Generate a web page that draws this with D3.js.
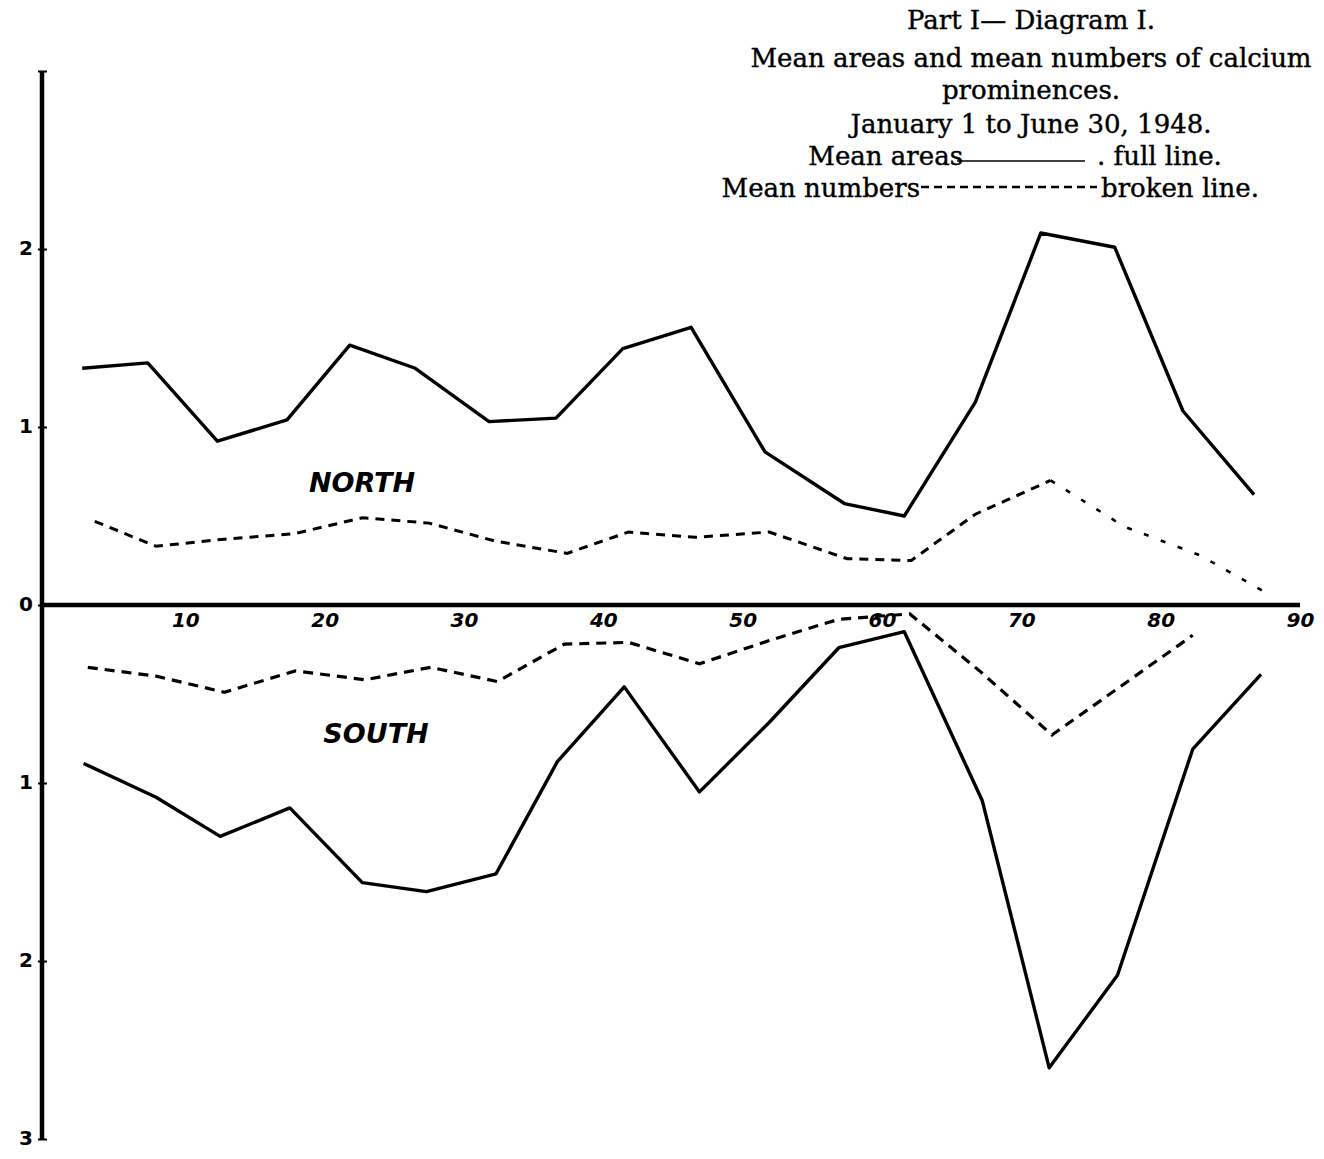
<!DOCTYPE html>
<html>
<head>
<meta charset="utf-8">
<script src="https://cdn.jsdelivr.net/npm/d3@7"></script>
<style>
  body { margin: 0; background: #fff; }
  svg { display: block; }
  .title { font-family: "DejaVu Serif", serif; font-size: 26px; fill: #000; stroke: #000; stroke-width: 0.4px; }
  .tick text { font-family: "DejaVu Sans", sans-serif; font-weight: bold; font-size: 20px; }
  .hemi { font-family: "DejaVu Sans", sans-serif; font-weight: bold; font-style: italic; font-size: 27px; }
</style>
</head>
<body>
<svg id="chart" width="1324" height="1159"></svg>
<script>
// days (x) and values
var northAreaX = [2.6, 7.3, 12.3, 17.3, 21.8, 26.5, 31.8, 36.6, 41.4, 46.3, 51.6, 57.3, 61.6, 66.7, 71.4, 76.7, 81.6, 86.7];
var northAreaY = [1.33, 1.36, 0.92, 1.04, 1.46, 1.33, 1.03, 1.05, 1.44, 1.56, 0.86, 0.57, 0.50, 1.14, 2.09, 2.01, 1.09, 0.62];

var northNumX = [3.5, 7.9, 12.8, 17.8, 22.7, 27.5, 32.2, 37.4, 41.8, 46.6, 51.9, 57.5, 62.1, 66.7, 72.1];
var northNumY = [0.47, 0.33, 0.37, 0.40, 0.49, 0.46, 0.36, 0.29, 0.41, 0.38, 0.41, 0.26, 0.25, 0.51, 0.70];
// faint tail after the peak
var northTailX = [72.1, 77.4, 82.8, 88.0];
var northTailY = [0.70, 0.44, 0.28, 0.05];

var southAreaX = [2.7, 7.9, 12.5, 17.5, 22.7, 27.3, 32.3, 36.7, 41.5, 46.9, 51.9, 56.9, 61.6, 67.2, 72.0, 76.9, 82.3, 87.2];
var southAreaY = [0.89, 1.08, 1.30, 1.14, 1.56, 1.61, 1.51, 0.88, 0.46, 1.05, 0.66, 0.24, 0.15, 1.10, 2.60, 2.08, 0.81, 0.39];

var southNumX = [3.0, 7.9, 12.8, 17.9, 22.9, 27.6, 32.4, 37.2, 41.8, 46.9, 51.9, 56.9, 62.0, 67.0, 72.2, 76.9, 82.3];
var southNumY = [0.35, 0.40, 0.49, 0.37, 0.42, 0.35, 0.43, 0.22, 0.21, 0.33, 0.20, 0.08, 0.05, 0.37, 0.73, 0.47, 0.17];

var xTicks = [10, 20, 30, 40, 50, 60, 70, 80, 90];
var yTicks = [-3, -2, -1, 0, 1, 2, 3];

var titleLines = ["Part I\u2014 Diagram I.", "Mean areas and mean numbers of calcium", "prominences.", "January 1 to June 30, 1948."];

var svg = d3.select("#chart");

var x = d3.scaleLinear().domain([0, 90]).range([46, 1300]);
// north plotted upward, south downward (south values negated)
var y = d3.scaleLinear().domain([-3, 3]).range([1139, 71]);

function pts(xs, ys, sign) {
  return xs.map(function(d, i){ return [d, sign * ys[i]]; });
}

var line = d3.line()
  .x(function(d){ return x(d[0]); })
  .y(function(d){ return y(d[1]); });

// axes
var yAxis = d3.axisLeft(y)
  .tickValues(yTicks)
  .tickSize(5)
  .tickFormat(function(d){ return d == 3 ? "" : Math.abs(d); });

svg.append("g")
  .attr("transform", "translate(42,0)")
  .call(yAxis)
  .call(function(g){
    g.select(".domain").attr("stroke-width", 4.5).attr("d", "M0," + y(3) + "V" + y(-3));
    g.selectAll(".tick line").attr("stroke-width", 2).attr("x2", 5).attr("x1", -4);
    g.selectAll(".tick text").attr("x", -9).attr("dy", "0.25em");
  });

var xAxis = d3.axisBottom(x)
  .tickValues(xTicks)
  .tickSize(0)
  .tickFormat(d3.format("d"));

svg.append("g")
  .attr("transform", "translate(0," + y(0) + ")")
  .call(xAxis)
  .call(function(g){
    g.select(".domain").attr("stroke-width", 4.5).attr("d", "M" + (x(0) - 6) + ",0H" + x(90));
    g.selectAll(".tick text").attr("y", 8).attr("font-style", "italic");
  });

// series
svg.append("path")
  .datum(pts(northAreaX, northAreaY, 1))
  .attr("d", line)
  .attr("fill", "none")
  .attr("stroke", "#000")
  .attr("stroke-width", 3.4)
  .attr("stroke-linejoin", "round");

svg.append("path")
  .datum(pts(southAreaX, southAreaY, -1))
  .attr("d", line)
  .attr("fill", "none")
  .attr("stroke", "#000")
  .attr("stroke-width", 3.4)
  .attr("stroke-linejoin", "round");

svg.append("path")
  .datum(pts(northNumX, northNumY, 1))
  .attr("d", line)
  .attr("fill", "none")
  .attr("stroke", "#000")
  .attr("stroke-width", 3)
  .attr("stroke-dasharray", "9,7");

svg.append("path")
  .datum(pts(northTailX, northTailY, 1))
  .attr("d", line)
  .attr("fill", "none")
  .attr("stroke", "#000")
  .attr("stroke-width", 2.6)
  .attr("stroke-dasharray", "5,13");

svg.append("path")
  .datum(pts(southNumX, southNumY, -1))
  .attr("d", line)
  .attr("fill", "none")
  .attr("stroke", "#000")
  .attr("stroke-width", 3.2)
  .attr("stroke-dasharray", "10,7");

// hemisphere labels
svg.append("text").attr("class", "hemi").attr("x", 362).attr("y", 492)
  .attr("text-anchor", "middle").text("NORTH");
svg.append("text").attr("class", "hemi").attr("x", 376).attr("y", 743)
  .attr("text-anchor", "middle").text("SOUTH");

// title block
var ty = [29, 67, 99, 133];
svg.selectAll(".title-line")
  .data(titleLines)
  .enter()
  .append("text")
  .attr("class", "title title-line")
  .attr("x", 1031)
  .attr("y", function(d, i){ return ty[i]; })
  .attr("text-anchor", "middle")
  .text(function(d){ return d; });

// legend lines
svg.append("text").attr("class", "title").attr("x", 963).attr("y", 165)
  .attr("text-anchor", "end").text("Mean areas");
svg.append("line").attr("x1", 957).attr("x2", 1085).attr("y1", 161).attr("y2", 161)
  .attr("stroke", "#000").attr("stroke-width", 1.6);
svg.append("text").attr("class", "title").attr("x", 1097).attr("y", 165)
  .text(". full line.");

svg.append("text").attr("class", "title").attr("x", 920).attr("y", 197)
  .attr("text-anchor", "end").text("Mean numbers");
svg.append("line").attr("x1", 921).attr("x2", 1097).attr("y1", 187).attr("y2", 187)
  .attr("stroke", "#000").attr("stroke-width", 2.5).attr("stroke-dasharray", "8,5");
svg.append("text").attr("class", "title").attr("x", 1101).attr("y", 197)
  .text("broken line.");
</script>
</body>
</html>
